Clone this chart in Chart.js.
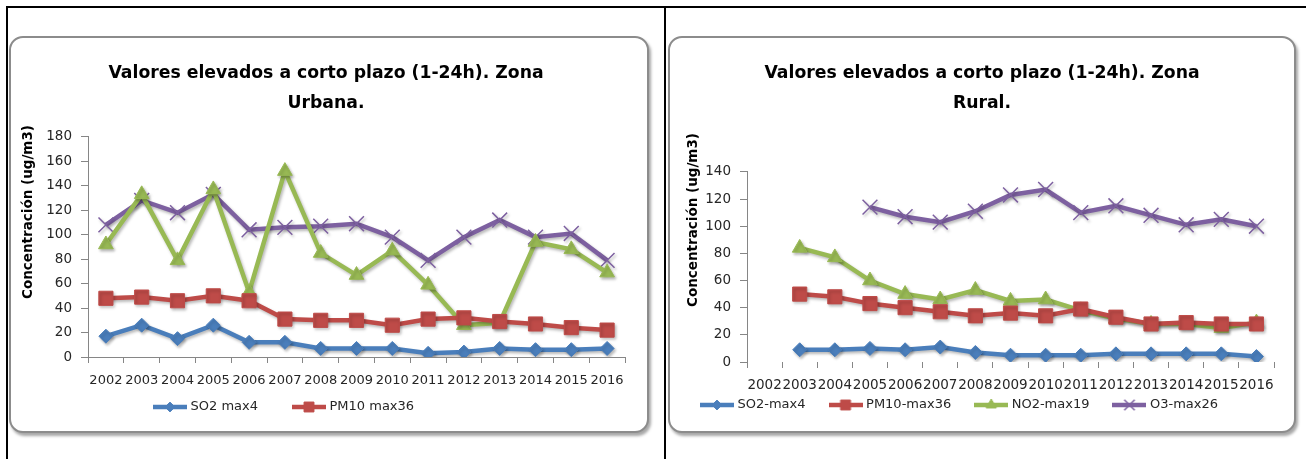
<!DOCTYPE html>
<html>
<head>
<meta charset="utf-8">
<script src="https://cdn.jsdelivr.net/npm/chart.js@4.4.1/dist/chart.umd.min.js"></script>
<style>
  body { margin: 0; background: #fff; width: 1306px; height: 459px; overflow: hidden; position: relative; }
  .frame { position: absolute; left: 6px; top: 6px; width: 1300px; height: 460px; border-top: 2px solid #000; border-left: 2px solid #000; }
  .divider { position: absolute; left: 664px; top: 6px; width: 2px; height: 460px; background: #000; }
  .box { position: absolute; border: 2px solid #8c8c8c; border-radius: 14px; background: #fff;
         box-shadow: 2px 3px 3px rgba(0,0,0,0.35); overflow: hidden; }
  .box canvas { position: absolute; left: 0; top: 0; }
</style>
</head>
<body>
<div class="frame"></div>
<div class="divider"></div>
<div class="box" style="left:9px;top:36px;width:636px;height:393px"><canvas id="urbana" width="636" height="393"></canvas></div>
<div class="box" style="left:668px;top:36px;width:624px;height:393px"><canvas id="rural" width="624" height="393"></canvas></div>
<script>
const years = ['2002', '2003', '2004', '2005', '2006', '2007', '2008', '2009', '2010', '2011', '2012', '2013', '2014', '2015', '2016'];

// Zona urbana
const so2Urb = [17, 26, 15, 26, 12, 12, 7, 7, 7, 3, 4, 7, 6, 6, 7];
const pm10Urb = [48, 49, 46, 50, 46, 31, 30, 30, 26, 31, 32, 29, 27, 24, 22];
const no2Urb = [92, 133, 79, 137, 53, 152, 85, 67, 87, 59, 26, 28, 94, 88, 69];
const o3Urb = [108, 128, 118, 133, 104, 106, 107, 109, 98, 79, 98, 112, 98, 101, 79];
const urbLabels = ['SO2 max4', 'PM10 max36', 'NO2 max19', 'O3 max26'];

// Zona rural
const so2Rur = [null, 9, 9, 10, 9, 11, 7, 5, 5, 5, 6, 6, 6, 6, 4];
const pm10Rur = [null, 50, 48, 43, 40, 37, 34, 36, 34, 39, 33, 28, 29, 28, 28];
const no2Rur = [null, 84, 77, 60, 50, 46, 53, 45, 46, 38, 32, 28, 28, 25, 29];
const o3Rur = [null, null, null, 114, 107, 103, 111, 123, 127, 110, 115, 108, 101, 105, 100];
const rurLabels = ['SO2-max4', 'PM10-max36', 'NO2-max19', 'O3-max26'];

Chart.defaults.font.family = '"DejaVu Sans", sans-serif';

const colors = ['#4a7ebb', '#be4b48', '#98b954', '#7d60a0'];
const markers = [
  { pointStyle: 'rectRot', radius: 7, borderWidth: 1 },
  { pointStyle: 'rect', radius: 10, borderWidth: 1 },
  { pointStyle: 'triangle', radius: 8.5, borderWidth: 1 },
  { pointStyle: 'crossRot', radius: 10.5, borderWidth: 1.5 }
];

// legend symbol: a short line with the marker on top, like Excel
const makeSymbol = (i) => {
  const c = document.createElement('canvas');
  c.width = 34;
  c.height = 16;
  const g = c.getContext('2d');
  g.strokeStyle = colors[i];
  g.fillStyle = colors[i];
  g.lineWidth = 4.5;
  g.beginPath();
  g.moveTo(0, 8);
  g.lineTo(34, 8);
  g.stroke();
  g.lineWidth = markers[i].borderWidth;
  Chart.helpers.drawPoint(g, { pointStyle: markers[i].pointStyle, radius: markers[i].radius * 0.7, rotation: 0, borderWidth: markers[i].borderWidth }, 17, 8);
  return c;
};
const symbols = [0, 1, 2, 3].map(makeSymbol);

const makeDatasets = (labels, series) => series.map((data, i) => ({
  label: labels[i],
  data: data,
  borderColor: colors[i],
  backgroundColor: colors[i],
  borderWidth: 4.5,
  tension: 0,
  pointStyle: markers[i].pointStyle,
  pointRadius: markers[i].radius,
  pointHoverRadius: markers[i].radius,
  pointBorderWidth: markers[i].borderWidth,
  pointBorderColor: colors[i],
  pointBackgroundColor: colors[i]
}));

// move the legend box so its first item sits where Excel put it
const legendPlace = {
  id: 'legendPlace',
  afterLayout(chart, args, opts) {
    const lg = chart.legend;
    const pad = chart.options.plugins.legend.labels.padding;
    lg.left = opts.x - pad;
    lg.top = opts.y - pad - 6.5;
    lg.bottom = opts.y + 14;
    lg.height = lg.bottom - lg.top;
  }
};

const yTitle = {
  id: 'yTitle',
  afterDraw(chart, args, opts) {
    const ctx = chart.ctx;
    ctx.save();
    ctx.translate(opts.x, opts.y);
    ctx.rotate(-Math.PI / 2);
    ctx.font = 'bold 13.5px "DejaVu Sans"';
    ctx.fillStyle = '#000';
    ctx.textAlign = 'center';
    ctx.textBaseline = 'middle';
    ctx.fillText(opts.text, 0, 0);
    ctx.restore();
  }
};

const lineShadow = {
  id: 'lineShadow',
  beforeDatasetsDraw(chart) {
    const c = chart.ctx;
    c.save();
    c.shadowColor = 'rgba(0,0,0,0.28)';
    c.shadowBlur = 3;
    c.shadowOffsetX = 1.5;
    c.shadowOffsetY = 2;
  },
  afterDatasetsDraw(chart) {
    chart.ctx.restore();
  }
};

const makeChart = (id, o) => new Chart(document.getElementById(id), {
  type: 'line',
  data: { labels: years, datasets: makeDatasets(o.labels, o.series) },
  plugins: [lineShadow, legendPlace, yTitle],
  options: {
    responsive: false,
    animation: false,
    layout: { padding: { left: o.padLeft, top: 0, right: o.padRight, bottom: o.padBottom } },
    scales: {
      x: {
        offset: true,
        grid: { offset: true, drawOnChartArea: false, drawTicks: true, tickLength: 6, color: '#868686' },
        border: { display: o.xBorder, color: '#868686', width: 1 },
        ticks: { autoSkip: false, maxRotation: 0, padding: o.xPad, color: '#262626', font: { size: o.xFont } },
        afterFit: (s) => { s.height = 32; }
      },
      y: {
        min: 0,
        max: o.yMax,
        grid: { drawOnChartArea: false, drawTicks: true, tickLength: 7, color: '#868686' },
        border: { display: true, color: '#868686', width: 1 },
        ticks: { stepSize: 20, padding: 9, color: '#262626', font: { size: 13.5 } },
        afterFit: (s) => { s.width = 77 - o.padLeft; }
      }
    },
    plugins: {
      title: {
        display: true,
        text: o.title,
        color: '#000',
        font: { size: 17.25, weight: 'bold', lineHeight: 1.706 },
        padding: { top: 21, bottom: o.titleBottom }
      },
      legend: {
        position: 'bottom',
        align: 'start',
        maxHeight: 20,
        labels: {
          usePointStyle: true,
          pointStyleWidth: 28,
          padding: o.legendPad,
          color: '#262626',
          font: { size: 13 },
          filter: (item) => item.datasetIndex < o.legendCount,
          generateLabels: (chart) => Chart.defaults.plugins.legend.labels.generateLabels(chart).map(item => {
            item.pointStyle = symbols[item.datasetIndex];
            return item;
          })
        }
      },
      tooltip: { enabled: false },
      legendPlace: { x: o.legendX, y: o.legendY },
      yTitle: { text: 'Concentración (ug/m3)', x: o.yTitleX, y: o.yTitleY }
    }
  }
});

const chartUrb = makeChart('urbana', {
  labels: urbLabels,
  series: [so2Urb, pm10Urb, no2Urb, o3Urb],
  title: ['Valores elevados a corto plazo (1-24h). Zona', 'Urbana.'],
  titleBottom: 19,
  yMax: 180,
  xFont: 13,
  xPad: 10,
  xBorder: true,
  padLeft: 16,
  padRight: 22,
  padBottom: 22,
  legendPad: 37,
  legendCount: 2,
  legendX: 145,
  legendY: 369,
  yTitleX: 17,
  yTitleY: 174
});

const chartRur = makeChart('rural', {
  labels: rurLabels,
  series: [so2Rur, pm10Rur, no2Rur, o3Rur],
  title: ['Valores elevados a corto plazo (1-24h). Zona', 'Rural.'],
  titleBottom: 54,
  yMax: 140,
  xFont: 13.5,
  xPad: 9,
  xBorder: false,
  padLeft: 20,
  padRight: 20,
  padBottom: 17,
  legendPad: 26,
  legendCount: 4,
  legendX: 33,
  legendY: 367,
  yTitleX: 23,
  yTitleY: 182
});
</script>
</body>
</html>
